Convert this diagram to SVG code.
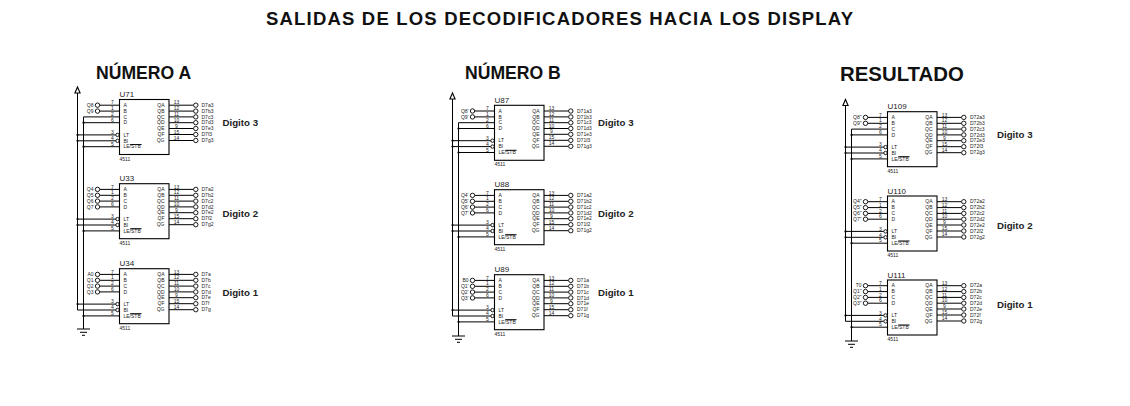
<svg xmlns="http://www.w3.org/2000/svg" width="1130" height="406" viewBox="0 0 1130 406">
<style>
text{font-family:"Liberation Sans",Arial,sans-serif;fill:#222}
.t{font-weight:700;fill:#111}
.d{font-size:9.7px;font-weight:700;fill:#222}
.w{fill:none;stroke:#000;stroke-width:1}
.c{fill:#fff;stroke:#000;stroke-width:.9}
.r{fill:#fff;stroke:#000;stroke-width:1.1}
.ref{font-size:8px}
.s{font-size:5px}
.e{text-anchor:end}
.m{text-anchor:middle}
.dot{fill:#000}
</style>
<defs>
<g id="body">
<rect class="r" x="0" y="0" width="49.5" height="55"/>
<path class="w" d="M49.5 5.7H74M49.5 11.6H74M49.5 17.4H74M49.5 23.2H74M49.5 29H74M49.5 35H74M49.5 41H74M10.7 45H22"/>
<circle class="c" cx="76.3" cy="5.7" r="2.2"/><circle class="c" cx="76.3" cy="11.6" r="2.2"/><circle class="c" cx="76.3" cy="17.4" r="2.2"/><circle class="c" cx="76.3" cy="23.2" r="2.2"/><circle class="c" cx="76.3" cy="29" r="2.2"/><circle class="c" cx="76.3" cy="35" r="2.2"/><circle class="c" cx="76.3" cy="41" r="2.2"/>
<circle class="c" cx="-2" cy="35.4" r="1.7"/><circle class="c" cx="-2" cy="41.3" r="1.7"/>
</g>
<g id="ab"><path class="w" d="M-19.7 5.7H0M-19.7 11.6H0"/><circle class="c" cx="-22" cy="5.7" r="2.2"/><circle class="c" cx="-22" cy="11.6" r="2.2"/></g>
<g id="cd"><path class="w" d="M-19.7 17.4H0M-19.7 23.2H0"/><circle class="c" cx="-22" cy="17.4" r="2.2"/><circle class="c" cx="-22" cy="23.2" r="2.2"/></g>
<g id="gnd"><path class="w" d="M-6.5 0H6.5M-3.5 3.3H3.5M-1.5 6.3H1.5"/></g>
<path id="arr" class="r" d="M0 0L2.6 6H-2.6Z"/>
<g id="j"><circle class="dot" r="1.1"/></g>
</defs>

<text class="t" x="266" y="25" font-size="18.5" letter-spacing="1.19">SALIDAS DE LOS DECODIFICADORES HACIA LOS DISPLAY</text>
<text class="t" x="96" y="79" font-size="17.6">NÚMERO A</text>
<text class="t" x="465" y="79" font-size="17.6">NÚMERO B</text>
<text class="t" x="840" y="81" font-size="20.4">RESULTADO</text>
<text class="d" x="222.5" y="125.5">Digito 3</text>
<text class="d" x="222.5" y="216.5">Digito 2</text>
<text class="d" x="222.5" y="296">Digito 1</text>
<text class="d" x="598" y="125.5">Digito 3</text>
<text class="d" x="598" y="216.5">Digito 2</text>
<text class="d" x="598" y="296">Digito 1</text>
<text class="d" x="997" y="138">Digito 3</text>
<text class="d" x="997" y="229">Digito 2</text>
<text class="d" x="997" y="308">Digito 1</text>

<g id="connectors">
<path class="w" d="M77.5 90V310H115.8M77.5 304.1H115.8M77.5 134.9H115.8M77.5 140.8H115.8M77.5 219.1H115.8M77.5 225H115.8M119.5 116.9H83.5V329M83.5 122.7H119.5M83.5 146.7H119.5M83.5 230.9H119.5M83.5 315.9H119.5"/>
<path class="w" d="M452.5 96V316H490.8M452.5 310.1H490.8M452.5 140.7H490.8M452.5 146.6H490.8M452.5 225.1H490.8M452.5 231H490.8M494.5 122.7H458.5V336M458.5 128.5H494.5M458.5 152.5H494.5M458.5 236.9H494.5M458.5 321.9H494.5"/>
<path class="w" d="M845.5 102V321.3H883.8M845.5 315.4H883.8M845.5 147.1H883.8M845.5 153H883.8M845.5 231.4H883.8M845.5 237.3H883.8M887.5 129.1H851.5V341M851.5 134.9H887.5M851.5 158.9H887.5M851.5 243.2H887.5M851.5 327.2H887.5"/>
<use href="#arr" x="77.5" y="87"/><use href="#arr" x="452.5" y="93"/><use href="#arr" x="845.5" y="99.5"/>
<use href="#gnd" x="83.5" y="329"/><use href="#gnd" x="458.5" y="336"/><use href="#gnd" x="851.5" y="341"/>
<use href="#j" x="77.5" y="134.9"/><use href="#j" x="77.5" y="140.8"/><use href="#j" x="77.5" y="219.1"/><use href="#j" x="77.5" y="225"/><use href="#j" x="77.5" y="304.1"/>
<use href="#j" x="83.5" y="122.7"/><use href="#j" x="83.5" y="146.7"/><use href="#j" x="83.5" y="230.9"/><use href="#j" x="83.5" y="315.9"/>
<use href="#j" x="452.5" y="140.7"/><use href="#j" x="452.5" y="146.6"/><use href="#j" x="452.5" y="225.1"/><use href="#j" x="452.5" y="231"/><use href="#j" x="452.5" y="310.1"/>
<use href="#j" x="458.5" y="128.5"/><use href="#j" x="458.5" y="152.5"/><use href="#j" x="458.5" y="236.9"/><use href="#j" x="458.5" y="321.9"/>
<use href="#j" x="845.5" y="147.1"/><use href="#j" x="845.5" y="153"/><use href="#j" x="845.5" y="231.4"/><use href="#j" x="845.5" y="237.3"/><use href="#j" x="845.5" y="315.4"/>
<use href="#j" x="851.5" y="134.9"/><use href="#j" x="851.5" y="158.9"/><use href="#j" x="851.5" y="243.2"/><use href="#j" x="851.5" y="327.2"/>
</g>

<g id="U71" transform="translate(119.5 99.5)">
<use href="#body"/><use href="#ab"/>
<text class="ref" x="0" y="-2.5">U71</text><text class="s" x="0" y="61">4511</text>
<g class="s"><text x="4" y="7.4">A</text><text x="4" y="13.3">B</text><text x="4" y="19.1">C</text><text x="4" y="24.9">D</text><text x="4" y="37.1">LT</text><text x="4" y="43">BI</text><text x="4" y="48.9">LE/STB</text></g>
<g class="s e"><text x="45" y="7.4">QA</text><text x="45" y="13.3">QB</text><text x="45" y="19.1">QC</text><text x="45" y="24.9">QD</text><text x="45" y="30.7">QE</text><text x="45" y="36.7">QF</text><text x="45" y="42.7">QG</text><text x="-26" y="7.4">Q8</text><text x="-26" y="13.3">Q9</text></g>
<g class="s m"><text x="-7" y="4.9">7</text><text x="-7" y="10.8">1</text><text x="-7" y="16.6">2</text><text x="-7" y="22.4">6</text><text x="-7" y="34.6">3</text><text x="-7" y="40.5">4</text><text x="-7" y="46.4">5</text><text x="57" y="4.9">13</text><text x="57" y="10.8">12</text><text x="57" y="16.6">11</text><text x="57" y="22.4">10</text><text x="57" y="28.2">9</text><text x="57" y="34.2">15</text><text x="57" y="40.2">14</text></g>
<g class="s"><text x="82" y="7.4">D7a3</text><text x="82" y="13.3">D7b3</text><text x="82" y="19.1">D7c3</text><text x="82" y="24.9">D7d3</text><text x="82" y="30.7">D7e3</text><text x="82" y="36.7">D7f3</text><text x="82" y="42.7">D7g3</text></g>
</g>

<g id="U33" transform="translate(119.5 183.7)">
<use href="#body"/><use href="#ab"/><use href="#cd"/>
<text class="ref" x="0" y="-2.5">U33</text><text class="s" x="0" y="61">4511</text>
<g class="s"><text x="4" y="7.4">A</text><text x="4" y="13.3">B</text><text x="4" y="19.1">C</text><text x="4" y="24.9">D</text><text x="4" y="37.1">LT</text><text x="4" y="43">BI</text><text x="4" y="48.9">LE/STB</text></g>
<g class="s e"><text x="45" y="7.4">QA</text><text x="45" y="13.3">QB</text><text x="45" y="19.1">QC</text><text x="45" y="24.9">QD</text><text x="45" y="30.7">QE</text><text x="45" y="36.7">QF</text><text x="45" y="42.7">QG</text><text x="-26" y="7.4">Q4</text><text x="-26" y="13.3">Q5</text><text x="-26" y="19.1">Q6</text><text x="-26" y="24.9">Q7</text></g>
<g class="s m"><text x="-7" y="4.9">7</text><text x="-7" y="10.8">1</text><text x="-7" y="16.6">2</text><text x="-7" y="22.4">6</text><text x="-7" y="34.6">3</text><text x="-7" y="40.5">4</text><text x="-7" y="46.4">5</text><text x="57" y="4.9">13</text><text x="57" y="10.8">12</text><text x="57" y="16.6">11</text><text x="57" y="22.4">10</text><text x="57" y="28.2">9</text><text x="57" y="34.2">15</text><text x="57" y="40.2">14</text></g>
<g class="s"><text x="82" y="7.4">D7a2</text><text x="82" y="13.3">D7b2</text><text x="82" y="19.1">D7c2</text><text x="82" y="24.9">D7d2</text><text x="82" y="30.7">D7e2</text><text x="82" y="36.7">D7f2</text><text x="82" y="42.7">D7g2</text></g>
</g>

<g id="U34" transform="translate(119.5 268.7)">
<use href="#body"/><use href="#ab"/><use href="#cd"/>
<text class="ref" x="0" y="-2.5">U34</text><text class="s" x="0" y="61">4511</text>
<g class="s"><text x="4" y="7.4">A</text><text x="4" y="13.3">B</text><text x="4" y="19.1">C</text><text x="4" y="24.9">D</text><text x="4" y="37.1">LT</text><text x="4" y="43">BI</text><text x="4" y="48.9">LE/STB</text></g>
<g class="s e"><text x="45" y="7.4">QA</text><text x="45" y="13.3">QB</text><text x="45" y="19.1">QC</text><text x="45" y="24.9">QD</text><text x="45" y="30.7">QE</text><text x="45" y="36.7">QF</text><text x="45" y="42.7">QG</text><text x="-26" y="7.4">A0</text><text x="-26" y="13.3">Q1</text><text x="-26" y="19.1">Q2</text><text x="-26" y="24.9">Q3</text></g>
<g class="s m"><text x="-7" y="4.9">7</text><text x="-7" y="10.8">1</text><text x="-7" y="16.6">2</text><text x="-7" y="22.4">6</text><text x="-7" y="34.6">3</text><text x="-7" y="40.5">4</text><text x="-7" y="46.4">5</text><text x="57" y="4.9">13</text><text x="57" y="10.8">12</text><text x="57" y="16.6">11</text><text x="57" y="22.4">10</text><text x="57" y="28.2">9</text><text x="57" y="34.2">15</text><text x="57" y="40.2">14</text></g>
<g class="s"><text x="82" y="7.4">D7a</text><text x="82" y="13.3">D7b</text><text x="82" y="19.1">D7c</text><text x="82" y="24.9">D7d</text><text x="82" y="30.7">D7e</text><text x="82" y="36.7">D7f</text><text x="82" y="42.7">D7g</text></g>
</g>

<g id="U87" transform="translate(494.5 105.3)">
<use href="#body"/><use href="#ab"/>
<text class="ref" x="0" y="-2.5">U87</text><text class="s" x="0" y="61">4511</text>
<g class="s"><text x="4" y="7.4">A</text><text x="4" y="13.3">B</text><text x="4" y="19.1">C</text><text x="4" y="24.9">D</text><text x="4" y="37.1">LT</text><text x="4" y="43">BI</text><text x="4" y="48.9">LE/STB</text></g>
<g class="s e"><text x="45" y="7.4">QA</text><text x="45" y="13.3">QB</text><text x="45" y="19.1">QC</text><text x="45" y="24.9">QD</text><text x="45" y="30.7">QE</text><text x="45" y="36.7">QF</text><text x="45" y="42.7">QG</text><text x="-26" y="7.4">Q8'</text><text x="-26" y="13.3">Q9'</text></g>
<g class="s m"><text x="-7" y="4.9">7</text><text x="-7" y="10.8">1</text><text x="-7" y="16.6">2</text><text x="-7" y="22.4">6</text><text x="-7" y="34.6">3</text><text x="-7" y="40.5">4</text><text x="-7" y="46.4">5</text><text x="57" y="4.9">13</text><text x="57" y="10.8">12</text><text x="57" y="16.6">11</text><text x="57" y="22.4">10</text><text x="57" y="28.2">9</text><text x="57" y="34.2">15</text><text x="57" y="40.2">14</text></g>
<g class="s"><text x="82.5" y="7.4">D71a3</text><text x="82.5" y="13.3">D71b3</text><text x="82.5" y="19.1">D71c3</text><text x="82.5" y="24.9">D71d3</text><text x="82.5" y="30.7">D71e3</text><text x="82.5" y="36.7">D71f3</text><text x="82.5" y="42.7">D71g3</text></g>
</g>

<g id="U88" transform="translate(494.5 189.7)">
<use href="#body"/><use href="#ab"/><use href="#cd"/>
<text class="ref" x="0" y="-2.5">U88</text><text class="s" x="0" y="61">4511</text>
<g class="s"><text x="4" y="7.4">A</text><text x="4" y="13.3">B</text><text x="4" y="19.1">C</text><text x="4" y="24.9">D</text><text x="4" y="37.1">LT</text><text x="4" y="43">BI</text><text x="4" y="48.9">LE/STB</text></g>
<g class="s e"><text x="45" y="7.4">QA</text><text x="45" y="13.3">QB</text><text x="45" y="19.1">QC</text><text x="45" y="24.9">QD</text><text x="45" y="30.7">QE</text><text x="45" y="36.7">QF</text><text x="45" y="42.7">QG</text><text x="-26" y="7.4">Q4'</text><text x="-26" y="13.3">Q5'</text><text x="-26" y="19.1">Q6'</text><text x="-26" y="24.9">Q7'</text></g>
<g class="s m"><text x="-7" y="4.9">7</text><text x="-7" y="10.8">1</text><text x="-7" y="16.6">2</text><text x="-7" y="22.4">6</text><text x="-7" y="34.6">3</text><text x="-7" y="40.5">4</text><text x="-7" y="46.4">5</text><text x="57" y="4.9">13</text><text x="57" y="10.8">12</text><text x="57" y="16.6">11</text><text x="57" y="22.4">10</text><text x="57" y="28.2">9</text><text x="57" y="34.2">15</text><text x="57" y="40.2">14</text></g>
<g class="s"><text x="82.5" y="7.4">D71a2</text><text x="82.5" y="13.3">D71b2</text><text x="82.5" y="19.1">D71c2</text><text x="82.5" y="24.9">D71d2</text><text x="82.5" y="30.7">D71e2</text><text x="82.5" y="36.7">D71f2</text><text x="82.5" y="42.7">D71g2</text></g>
</g>

<g id="U89" transform="translate(494.5 274.7)">
<use href="#body"/><use href="#ab"/><use href="#cd"/>
<text class="ref" x="0" y="-2.5">U89</text><text class="s" x="0" y="61">4511</text>
<g class="s"><text x="4" y="7.4">A</text><text x="4" y="13.3">B</text><text x="4" y="19.1">C</text><text x="4" y="24.9">D</text><text x="4" y="37.1">LT</text><text x="4" y="43">BI</text><text x="4" y="48.9">LE/STB</text></g>
<g class="s e"><text x="45" y="7.4">QA</text><text x="45" y="13.3">QB</text><text x="45" y="19.1">QC</text><text x="45" y="24.9">QD</text><text x="45" y="30.7">QE</text><text x="45" y="36.7">QF</text><text x="45" y="42.7">QG</text><text x="-26" y="7.4">B0</text><text x="-26" y="13.3">Q1'</text><text x="-26" y="19.1">Q2'</text><text x="-26" y="24.9">Q3'</text></g>
<g class="s m"><text x="-7" y="4.9">7</text><text x="-7" y="10.8">1</text><text x="-7" y="16.6">2</text><text x="-7" y="22.4">6</text><text x="-7" y="34.6">3</text><text x="-7" y="40.5">4</text><text x="-7" y="46.4">5</text><text x="57" y="4.9">13</text><text x="57" y="10.8">12</text><text x="57" y="16.6">11</text><text x="57" y="22.4">10</text><text x="57" y="28.2">9</text><text x="57" y="34.2">15</text><text x="57" y="40.2">14</text></g>
<g class="s"><text x="82.5" y="7.4">D71a</text><text x="82.5" y="13.3">D71b</text><text x="82.5" y="19.1">D71c</text><text x="82.5" y="24.9">D71d</text><text x="82.5" y="30.7">D71e</text><text x="82.5" y="36.7">D71f</text><text x="82.5" y="42.7">D71g</text></g>
</g>

<g id="U109" transform="translate(887.5 111.7)">
<use href="#body"/><use href="#ab"/>
<text class="ref" x="0" y="-2.5">U109</text><text class="s" x="0" y="61">4511</text>
<g class="s"><text x="4" y="7.4">A</text><text x="4" y="13.3">B</text><text x="4" y="19.1">C</text><text x="4" y="24.9">D</text><text x="4" y="37.1">LT</text><text x="4" y="43">BI</text><text x="4" y="48.9">LE/STB</text></g>
<g class="s e"><text x="45" y="7.4">QA</text><text x="45" y="13.3">QB</text><text x="45" y="19.1">QC</text><text x="45" y="24.9">QD</text><text x="45" y="30.7">QE</text><text x="45" y="36.7">QF</text><text x="45" y="42.7">QG</text><text x="-26" y="7.4">Q8"</text><text x="-26" y="13.3">Q9"</text></g>
<g class="s m"><text x="-7" y="4.9">7</text><text x="-7" y="10.8">1</text><text x="-7" y="16.6">2</text><text x="-7" y="22.4">6</text><text x="-7" y="34.6">3</text><text x="-7" y="40.5">4</text><text x="-7" y="46.4">5</text><text x="57" y="4.9">13</text><text x="57" y="10.8">12</text><text x="57" y="16.6">11</text><text x="57" y="22.4">10</text><text x="57" y="28.2">9</text><text x="57" y="34.2">15</text><text x="57" y="40.2">14</text></g>
<g class="s"><text x="82.5" y="7.4">D72a3</text><text x="82.5" y="13.3">D72b3</text><text x="82.5" y="19.1">D72c3</text><text x="82.5" y="24.9">D72d3</text><text x="82.5" y="30.7">D72e3</text><text x="82.5" y="36.7">D72f3</text><text x="82.5" y="42.7">D72g3</text></g>
</g>

<g id="U110" transform="translate(887.5 196)">
<use href="#body"/><use href="#ab"/><use href="#cd"/>
<text class="ref" x="0" y="-2.5">U110</text><text class="s" x="0" y="61">4511</text>
<g class="s"><text x="4" y="7.4">A</text><text x="4" y="13.3">B</text><text x="4" y="19.1">C</text><text x="4" y="24.9">D</text><text x="4" y="37.1">LT</text><text x="4" y="43">BI</text><text x="4" y="48.9">LE/STB</text></g>
<g class="s e"><text x="45" y="7.4">QA</text><text x="45" y="13.3">QB</text><text x="45" y="19.1">QC</text><text x="45" y="24.9">QD</text><text x="45" y="30.7">QE</text><text x="45" y="36.7">QF</text><text x="45" y="42.7">QG</text><text x="-26" y="7.4">Q4"</text><text x="-26" y="13.3">Q5"</text><text x="-26" y="19.1">Q6"</text><text x="-26" y="24.9">Q7"</text></g>
<g class="s m"><text x="-7" y="4.9">7</text><text x="-7" y="10.8">1</text><text x="-7" y="16.6">2</text><text x="-7" y="22.4">6</text><text x="-7" y="34.6">3</text><text x="-7" y="40.5">4</text><text x="-7" y="46.4">5</text><text x="57" y="4.9">13</text><text x="57" y="10.8">12</text><text x="57" y="16.6">11</text><text x="57" y="22.4">10</text><text x="57" y="28.2">9</text><text x="57" y="34.2">15</text><text x="57" y="40.2">14</text></g>
<g class="s"><text x="82.5" y="7.4">D72a2</text><text x="82.5" y="13.3">D72b2</text><text x="82.5" y="19.1">D72c2</text><text x="82.5" y="24.9">D72d2</text><text x="82.5" y="30.7">D72e2</text><text x="82.5" y="36.7">D72f2</text><text x="82.5" y="42.7">D72g2</text></g>
</g>

<g id="U111" transform="translate(887.5 280)">
<use href="#body"/><use href="#ab"/><use href="#cd"/>
<text class="ref" x="0" y="-2.5">U111</text><text class="s" x="0" y="61">4511</text>
<g class="s"><text x="4" y="7.4">A</text><text x="4" y="13.3">B</text><text x="4" y="19.1">C</text><text x="4" y="24.9">D</text><text x="4" y="37.1">LT</text><text x="4" y="43">BI</text><text x="4" y="48.9">LE/STB</text></g>
<g class="s e"><text x="45" y="7.4">QA</text><text x="45" y="13.3">QB</text><text x="45" y="19.1">QC</text><text x="45" y="24.9">QD</text><text x="45" y="30.7">QE</text><text x="45" y="36.7">QF</text><text x="45" y="42.7">QG</text><text x="-26" y="7.4">T0</text><text x="-26" y="13.3">Q1"</text><text x="-26" y="19.1">Q2"</text><text x="-26" y="24.9">Q3"</text></g>
<g class="s m"><text x="-7" y="4.9">7</text><text x="-7" y="10.8">1</text><text x="-7" y="16.6">2</text><text x="-7" y="22.4">6</text><text x="-7" y="34.6">3</text><text x="-7" y="40.5">4</text><text x="-7" y="46.4">5</text><text x="57" y="4.9">13</text><text x="57" y="10.8">12</text><text x="57" y="16.6">11</text><text x="57" y="22.4">10</text><text x="57" y="28.2">9</text><text x="57" y="34.2">15</text><text x="57" y="40.2">14</text></g>
<g class="s"><text x="82.5" y="7.4">D72a</text><text x="82.5" y="13.3">D72b</text><text x="82.5" y="19.1">D72c</text><text x="82.5" y="24.9">D72d</text><text x="82.5" y="30.7">D72e</text><text x="82.5" y="36.7">D72f</text><text x="82.5" y="42.7">D72g</text></g>
</g>
</svg>
